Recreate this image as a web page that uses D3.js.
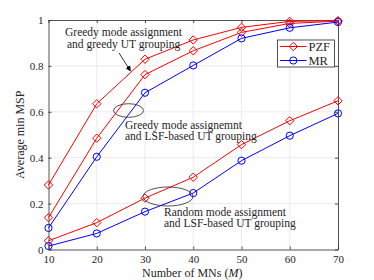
<!DOCTYPE html>
<html>
<head>
<meta charset="utf-8">
<script src="https://cdn.jsdelivr.net/npm/d3@7"></script>
<style>
  body { margin: 0; background: #fff; }
  svg { display: block; }
  text { font-family: "Liberation Serif", "DejaVu Serif", serif; fill: #262626; }
</style>
</head>
<body>
<div id="chart"></div>
<script>
// number of MNs
var mnCounts = [ 10, 20, 30, 40, 50, 60, 70 ];

// greedy mode assignment + greedy UT grouping
var greedyPzf = [ 0.281, 0.635, 0.829, 0.913, 0.968, 0.994, 0.997 ];
// greedy mode assignment + LSF-based UT grouping
var lsfPzf = [ 0.139, 0.485, 0.762, 0.866, 0.946, 0.985, 0.995 ];
var lsfMr = [ 0.094, 0.404, 0.683, 0.802, 0.920, 0.966, 0.991 ];
// random mode assignment + LSF-based UT grouping
var randPzf = [ 0.038, 0.117, 0.224, 0.315, 0.457, 0.561, 0.648 ];
var randMr = [ 0.015, 0.070, 0.165, 0.246, 0.387, 0.496, 0.593 ];

var xTicks = [ 10, 20, 30, 40, 50, 60, 70 ];
var yTicks = [ 0, 0.2, 0.4, 0.6, 0.8, 1 ];
var yTickLabels = [ '0', '0.2', '0.4', '0.6', '0.8', '1' ];

var W = 374, H = 280;
var plotL = 48.5, plotR = 338, plotT = 20, plotB = 249.5;

var svg = d3.select( '#chart' ).append( 'svg' )
	.attr( 'width', W )
	.attr( 'height', H );

var xScale = d3.scaleLinear().domain( [ 10, 70 ] ).range( [ plotL, plotR ] );
var yScale = d3.scaleLinear().domain( [ 0, 1 ] ).range( [ plotB, plotT ] );

// grid
svg.append( 'g' ).selectAll( 'line' )
	.data( xTicks.slice( 1, -1 ) )
	.enter().append( 'line' )
	.attr( 'x1', d => xScale( d ) ).attr( 'x2', d => xScale( d ) )
	.attr( 'y1', plotT ).attr( 'y2', plotB )
	.attr( 'stroke', '#e6e6e6' ).attr( 'stroke-width', 0.8 );
svg.append( 'g' ).selectAll( 'line' )
	.data( yTicks.slice( 1, -1 ) )
	.enter().append( 'line' )
	.attr( 'x1', plotL ).attr( 'x2', plotR )
	.attr( 'y1', d => yScale( d ) ).attr( 'y2', d => yScale( d ) )
	.attr( 'stroke', '#e6e6e6' ).attr( 'stroke-width', 0.8 );

// axes
var xAxis = d3.axisBottom( xScale ).tickValues( xTicks ).tickSizeInner( -3 ).tickSizeOuter( 0 ).tickPadding( 6 );
var yAxis = d3.axisLeft( yScale ).tickValues( yTicks ).tickSizeInner( -3 ).tickSizeOuter( 0 ).tickPadding( 5 )
	.tickFormat( ( d, i ) => yTickLabels[ i ] );

var gx = svg.append( 'g' ).attr( 'transform', 'translate(0,' + plotB + ')' ).call( xAxis );
var gy = svg.append( 'g' ).attr( 'transform', 'translate(' + plotL + ',0)' ).call( yAxis );
var gxTop = svg.append( 'g' ).attr( 'transform', 'translate(0,' + plotT + ')' )
	.call( d3.axisTop( xScale ).tickValues( xTicks ).tickSizeInner( -3 ).tickSizeOuter( 0 ).tickFormat( '' ) );
var gyRight = svg.append( 'g' ).attr( 'transform', 'translate(' + plotR + ',0)' )
	.call( d3.axisRight( yScale ).tickValues( yTicks ).tickSizeInner( -3 ).tickSizeOuter( 0 ).tickFormat( '' ) );

[ gx, gy, gxTop, gyRight ].forEach( function( g ) {
	g.select( '.domain' ).attr( 'stroke', '#262626' ).attr( 'stroke-width', 0.8 );
	g.selectAll( '.tick line' ).attr( 'stroke', '#262626' ).attr( 'stroke-width', 0.8 );
	g.selectAll( '.tick text' ).attr( 'font-size', '11px' )
		.attr( 'font-family', '"Liberation Serif", serif' ).attr( 'fill', '#262626' );
} );

// series
var series = [
	{ vals: greedyPzf, color: '#ff0000', marker: 'diamond' },
	{ vals: lsfPzf, color: '#ff0000', marker: 'diamond' },
	{ vals: lsfMr, color: '#0000ff', marker: 'circle' },
	{ vals: randPzf, color: '#ff0000', marker: 'diamond' },
	{ vals: randMr, color: '#0000ff', marker: 'circle' }
];

var line = d3.line()
	.x( ( d, i ) => xScale( mnCounts[ i ] ) )
	.y( d => yScale( d ) );

function drawMarker( g, type, x, y, color ) {
	if ( type === 'circle' ) {
		g.append( 'circle' ).attr( 'cx', x ).attr( 'cy', y ).attr( 'r', 3.6 )
			.attr( 'fill', 'none' ).attr( 'stroke', color ).attr( 'stroke-width', 1 );
	} else {
		var s = 4.2;
		g.append( 'path' )
			.attr( 'd', 'M' + x + ',' + ( y - s ) + 'L' + ( x + s ) + ',' + y + 'L' + x + ',' + ( y + s ) + 'L' + ( x - s ) + ',' + y + 'Z' )
			.attr( 'fill', 'none' ).attr( 'stroke', color ).attr( 'stroke-width', 1 );
	}
}

series.forEach( function( s ) {
	var g = svg.append( 'g' );
	g.append( 'path' ).datum( s.vals )
		.attr( 'd', line )
		.attr( 'fill', 'none' )
		.attr( 'stroke', s.color )
		.attr( 'stroke-width', 1 );
	s.vals.forEach( function( v, i ) {
		drawMarker( g, s.marker, xScale( mnCounts[ i ] ), yScale( v ), s.color );
	} );
} );

// legend
var lg = svg.append( 'g' );
lg.append( 'rect' )
	.attr( 'x', 277.5 ).attr( 'y', 40 ).attr( 'width', 57 ).attr( 'height', 27 )
	.attr( 'fill', '#fff' ).attr( 'stroke', '#262626' ).attr( 'stroke-width', 0.8 );
var legendItems = [ { name: 'PZF', color: '#ff0000', marker: 'diamond', y: 46.5 },
	{ name: 'MR', color: '#0000ff', marker: 'circle', y: 60.5 } ];
legendItems.forEach( function( it ) {
	lg.append( 'line' ).attr( 'x1', 280 ).attr( 'x2', 306.5 )
		.attr( 'y1', it.y ).attr( 'y2', it.y )
		.attr( 'stroke', it.color ).attr( 'stroke-width', 1 );
	drawMarker( lg, it.marker, 293.3, it.y, it.color );
	lg.append( 'text' ).attr( 'x', 308.5 ).attr( 'y', it.y + 4 )
		.attr( 'font-size', '12.5px' ).text( it.name );
} );

// axis labels
svg.append( 'text' )
	.attr( 'x', ( plotL + plotR ) / 2 - 1 ).attr( 'y', 277 )
	.attr( 'text-anchor', 'middle' ).attr( 'font-size', '12px' )
	.html( 'Number of MNs (<tspan font-style="italic">M</tspan>)' );
svg.append( 'text' )
	.attr( 'transform', 'translate(24,' + ( ( plotT + plotB ) / 2 ) + ') rotate(-90)' )
	.attr( 'text-anchor', 'middle' ).attr( 'font-size', '12px' )
	.text( 'Average min MSP' );

// annotations
function note( lines, x, y ) {
	lines.forEach( function( t, i ) {
		svg.append( 'text' ).attr( 'x', x ).attr( 'y', y + i * 11.5 )
			.attr( 'font-size', '11.5px' ).text( t );
	} );
}
note( [ 'Greedy mode assignment' ], 65, 36 );
note( [ 'and greedy UT grouping' ], 67, 47.5 );
note( [ 'Greedy mode assignemnt', 'and LSF-based UT grouping' ], 125, 128.5 );
note( [ 'Random mode assignment', 'and LSF-based UT grouping' ], 164, 215.5 );

svg.append( 'defs' ).append( 'marker' )
	.attr( 'id', 'arrow' ).attr( 'viewBox', '0 0 10 10' )
	.attr( 'refX', 9 ).attr( 'refY', 5 )
	.attr( 'markerWidth', 7 ).attr( 'markerHeight', 7 )
	.attr( 'orient', 'auto' )
	.append( 'path' ).attr( 'd', 'M0,0L10,5L0,10Z' ).attr( 'fill', '#000' );

svg.append( 'line' )
	.attr( 'x1', 119 ).attr( 'y1', 53 ).attr( 'x2', 130.5 ).attr( 'y2', 71 )
	.attr( 'stroke', '#000' ).attr( 'stroke-width', 0.8 )
	.attr( 'marker-end', 'url(#arrow)' );

svg.append( 'ellipse' )
	.attr( 'cx', 128.5 ).attr( 'cy', 110.5 ).attr( 'rx', 15 ).attr( 'ry', 6.8 )
	.attr( 'fill', 'none' ).attr( 'stroke', '#262626' ).attr( 'stroke-width', 0.8 );
svg.append( 'ellipse' )
	.attr( 'cx', 168 ).attr( 'cy', 196.5 ).attr( 'rx', 25 ).attr( 'ry', 9.5 )
	.attr( 'fill', 'none' ).attr( 'stroke', '#262626' ).attr( 'stroke-width', 0.8 );
</script>
</body>
</html>
